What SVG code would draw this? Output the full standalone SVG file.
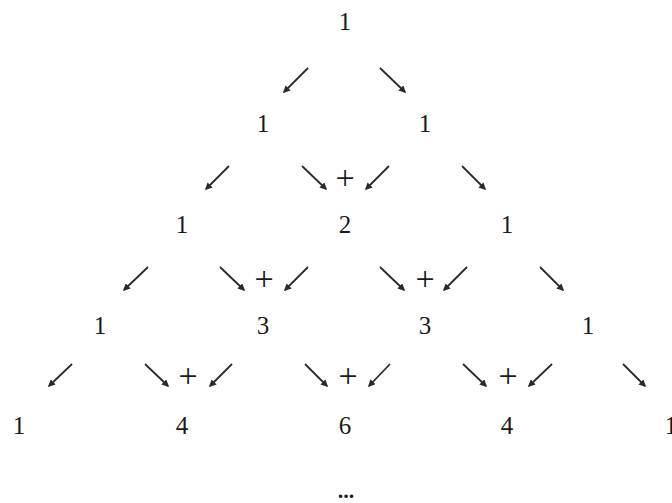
<svg xmlns="http://www.w3.org/2000/svg" width="672" height="503" viewBox="0 0 672 503">
<style>
.n{font-family:"Liberation Serif","DejaVu Serif",serif;font-size:25px;fill:#1a1a1a;text-anchor:middle}
.p{font-family:"Liberation Serif","DejaVu Serif",serif;font-size:34px;fill:#1a1a1a;text-anchor:middle}
.a{stroke:#2a2a2a;stroke-width:1.8;fill:none;marker-end:url(#ah)}
.d{font-family:"Liberation Serif","DejaVu Serif",serif;font-size:22px;font-weight:bold;fill:#1a1a1a;text-anchor:middle}
</style>
<defs>
<marker id="ah" viewBox="0 0 10 10" refX="8" refY="5" markerWidth="4" markerHeight="4" orient="auto" markerUnits="strokeWidth">
<path d="M0,0 L10,5 L0,10 z" fill="#2a2a2a"/>
</marker>
</defs>
<rect width="672" height="503" fill="#fff"/>
<g id="connectors">
<line class="a" x1="308" y1="68" x2="284" y2="92"/>
<line class="a" x1="380" y1="68" x2="405" y2="92"/>
<line class="a" x1="229" y1="166" x2="206" y2="189"/>
<line class="a" x1="302" y1="166" x2="326" y2="189"/>
<line class="a" x1="389" y1="166" x2="366" y2="189"/>
<line class="a" x1="462" y1="166" x2="485" y2="189"/>
<line class="a" x1="148" y1="267" x2="124" y2="290"/>
<line class="a" x1="220" y1="267" x2="244" y2="290"/>
<line class="a" x1="308" y1="267" x2="285" y2="290"/>
<line class="a" x1="380" y1="267" x2="404" y2="290"/>
<line class="a" x1="467" y1="267" x2="444" y2="290"/>
<line class="a" x1="540" y1="267" x2="563" y2="290"/>
<line class="a" x1="72" y1="364" x2="49" y2="386"/>
<line class="a" x1="145" y1="364" x2="168" y2="386"/>
<line class="a" x1="232" y1="364" x2="210" y2="386"/>
<line class="a" x1="305" y1="364" x2="327" y2="386"/>
<line class="a" x1="390" y1="364" x2="369" y2="386"/>
<line class="a" x1="463" y1="364" x2="486" y2="386"/>
<line class="a" x1="552" y1="364" x2="529" y2="386"/>
<line class="a" x1="623" y1="364" x2="645" y2="386"/>
</g>
<g id="operators">
<text class="p" x="345" y="189">+</text>
<text class="p" x="264" y="290">+</text>
<text class="p" x="425" y="290">+</text>
<text class="p" x="188" y="387">+</text>
<text class="p" x="348" y="387">+</text>
<text class="p" x="508" y="387">+</text>
</g>
<g id="r0c0"><text class="n" x="345" y="30">1</text></g>
<g id="r1c0"><text class="n" x="263" y="132">1</text></g>
<g id="r1c1"><text class="n" x="425" y="132">1</text></g>
<g id="r2c0"><text class="n" x="182" y="233">1</text></g>
<g id="r2c1"><text class="n" x="345" y="233">2</text></g>
<g id="r2c2"><text class="n" x="507" y="233">1</text></g>
<g id="r3c0"><text class="n" x="100" y="334">1</text></g>
<g id="r3c1"><text class="n" x="263" y="334">3</text></g>
<g id="r3c2"><text class="n" x="425" y="334">3</text></g>
<g id="r3c3"><text class="n" x="588" y="334">1</text></g>
<g id="r4c0"><text class="n" x="19" y="434">1</text></g>
<g id="r4c1"><text class="n" x="182" y="434">4</text></g>
<g id="r4c2"><text class="n" x="345" y="434">6</text></g>
<g id="r4c3"><text class="n" x="507" y="434">4</text></g>
<g id="r4c4"><text class="n" x="671" y="434">1</text></g>
<g id="more"><text class="d" x="346" y="498">...</text></g>
</svg>
